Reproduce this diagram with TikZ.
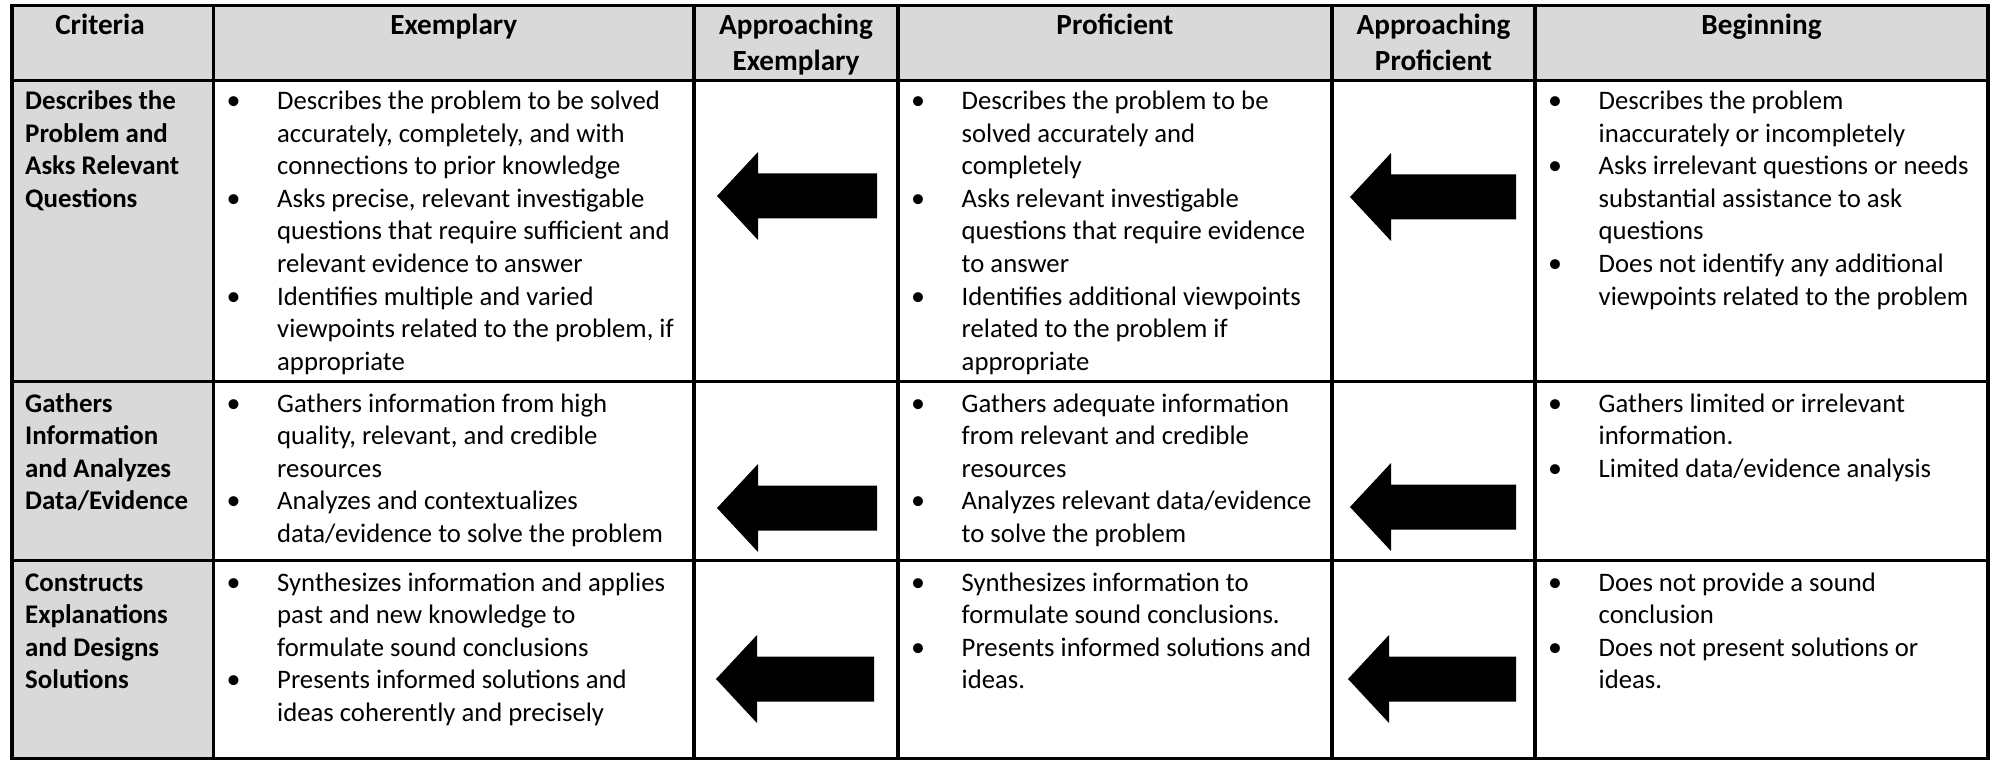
\documentclass[tikz,border=0pt]{standalone}
\usepackage{fontspec}
\setmainfont{Carlito}
\definecolor{hdrgrey}{HTML}{D9D9D9}
\newcommand\bodyfont{\fontsize{26.7pt}{32.5pt}\selectfont}
\newcommand\rowl[1]{\hbox{#1}}
\newcommand\cellitem[4]{%
  \node[bulletst] (#1b) at ({#2+20},#3) {•};
  \node[itemst] (#1) at ({#2+63.5},#3) {\vtop{#4}};}
\newcommand\leftarrowshape[3]{%
  \fill[black] (#1,#2) -- ({#1+41},{#2-44}) -- ({#1+41},{#2-22.5}) -- (#3,{#2-22.5})
   -- (#3,{#2+22.5}) -- ({#1+41},{#2+22.5}) -- ({#1+41},{#2+44}) -- cycle;}
\begin{document}
\begin{tikzpicture}[x=1pt,y=-1pt,
  rule/.style={line width=3.3pt,black},
  itemst/.style={anchor=base west,inner sep=0pt,font=\bodyfont},
  bulletst/.style={anchor=base,inner sep=0pt,font=\fontsize{28pt}{32.5pt}\selectfont},
  critst/.style={anchor=base west,inner sep=0pt,font=\fontsize{26.9pt}{32.5pt}\selectfont\bfseries},
  hdrst/.style={anchor=base,inner sep=0pt,font=\fontsize{29.2pt}{35.4pt}\selectfont\bfseries}]
\useasboundingbox (0,0) rectangle (1997,762);
% fills
\fill[white] (0,0) rectangle (1997,762);
\fill[hdrgrey] (12,5.5) rectangle (1988,80.5);
\fill[hdrgrey] (12,80.5) rectangle (213.5,758.5);
% rules
\draw[rule] (12,5.5) rectangle (1988,758.5);
\foreach \xx in {213.5,694,898,1332,1535} \draw[rule] (\xx,5.5) -- (\xx,758.5);
\foreach \yy in {80.5,381.5,560.5} \draw[rule] (12,\yy) -- (1988,\yy);
% headers
\node[hdrst] (hcrit) at (100,35) {Criteria};
\node[hdrst] (hex) at (453.75,35) {Exemplary};
\node[hdrst] (hae) at (796,35) {\vtop{\hbox to 0pt{\hss Approaching\hss}\hbox to 0pt{\hss Exemplary\hss}}};
\node[hdrst] (hpr) at (1115,35) {Proficient};
\node[hdrst] (hap) at (1433.5,35) {\vtop{\hbox to 0pt{\hss Approaching\hss}\hbox to 0pt{\hss Proficient\hss}}};
\node[hdrst] (hbe) at (1761.5,35) {Beginning};
% criteria
\node[critst] (c1) at (25,110) {\vtop{\rowl{Describes the}\rowl{Problem and}\rowl{Asks Relevant}\rowl{Questions}}};
\node[critst] (c2) at (25,412) {\vtop{\rowl{Gathers}\rowl{Information}\rowl{and Analyzes}\rowl{Data/Evidence}}};
\node[critst] (c3) at (25,591) {\vtop{\rowl{Constructs}\rowl{Explanations}\rowl{and Designs}\rowl{Solutions}}};
% row 1
\cellitem{ex1a}{213.5}{110}{\rowl{Describes the problem to be solved}\rowl{accurately, completely, and with}\rowl{connections to prior knowledge}}
\cellitem{ex1b}{213.5}{207.5}{\rowl{Asks precise, relevant investigable}\rowl{questions that require sufficient and}\rowl{relevant evidence to answer}}
\cellitem{ex1c}{213.5}{305}{\rowl{Identifies multiple and varied}\rowl{viewpoints related to the problem, if}\rowl{appropriate}}
\cellitem{pr1a}{898}{110}{\rowl{Describes the problem to be}\rowl{solved accurately and}\rowl{completely}}
\cellitem{pr1b}{898}{207.5}{\rowl{Asks relevant investigable}\rowl{questions that require evidence}\rowl{to answer}}
\cellitem{pr1c}{898}{305}{\rowl{Identifies additional viewpoints}\rowl{related to the problem if}\rowl{appropriate}}
\cellitem{be1a}{1535}{110}{\rowl{Describes the problem}\rowl{inaccurately or incompletely}}
\cellitem{be1b}{1535}{175}{\rowl{Asks irrelevant questions or needs}\rowl{substantial assistance to ask}\rowl{questions}}
\cellitem{be1c}{1535}{272.5}{\rowl{Does not identify any additional}\rowl{viewpoints related to the problem}}
% row 2
\cellitem{ex2a}{213.5}{412}{\rowl{Gathers information from high}\rowl{quality, relevant, and credible}\rowl{resources}}
\cellitem{ex2b}{213.5}{509.5}{\rowl{Analyzes and contextualizes}\rowl{data/evidence to solve the problem}}
\cellitem{pr2a}{898}{412}{\rowl{Gathers adequate information}\rowl{from relevant and credible}\rowl{resources}}
\cellitem{pr2b}{898}{509.5}{\rowl{Analyzes relevant data/evidence}\rowl{to solve the problem}}
\cellitem{be2a}{1535}{412}{\rowl{Gathers limited or irrelevant}\rowl{information.}}
\cellitem{be2b}{1535}{477}{\rowl{Limited data/evidence analysis}}
% row 3
\cellitem{ex3a}{213.5}{591}{\rowl{Synthesizes information and applies}\rowl{past and new knowledge to}\rowl{formulate sound conclusions}}
\cellitem{ex3b}{213.5}{688.5}{\rowl{Presents informed solutions and}\rowl{ideas coherently and precisely}}
\cellitem{pr3a}{898}{591}{\rowl{Synthesizes information to}\rowl{formulate sound conclusions.}}
\cellitem{pr3b}{898}{656}{\rowl{Presents informed solutions and}\rowl{ideas.}}
\cellitem{be3a}{1535}{591}{\rowl{Does not provide a sound}\rowl{conclusion}}
\cellitem{be3b}{1535}{656}{\rowl{Does not present solutions or}\rowl{ideas.}}
% arrows
\leftarrowshape{717}{196}{877}
\leftarrowshape{1350}{197}{1516}
\leftarrowshape{717}{508}{877}
\leftarrowshape{1350}{507}{1516}
\leftarrowshape{716}{679}{874}
\leftarrowshape{1348}{679}{1516}
\end{tikzpicture}
\end{document}
